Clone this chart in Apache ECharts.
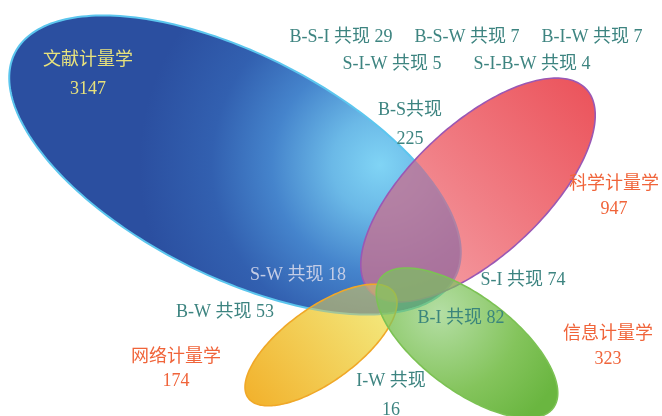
<!DOCTYPE html>
<html>
<head>
<meta charset="utf-8">
<script src="https://cdn.jsdelivr.net/npm/echarts@6/dist/echarts.min.js"></script>
<style>html,body{margin:0;padding:0;background:#fff}#c{width:662px;height:416px}</style>
</head>
<body>
<div id="c"></div>
<script>
// ---- data ----
const setNames = ['文献计量学', '科学计量学', '网络计量学', '信息计量学'];
const setCounts = [3147, 947, 174, 323];
const overlapNames = ['B-S共现', 'S-W 共现', 'S-I 共现', 'B-W 共现', 'B-I 共现', 'I-W 共现',
  'B-S-I 共现', 'B-S-W 共现', 'B-I-W 共现', 'S-I-W 共现', 'S-I-B-W 共现'];
const overlapCounts = [225, 18, 74, 53, 82, 16, 29, 7, 7, 5, 4];

// ---- layout (ellipse geometry in chart units) ----
const ellipseLayout = [
  { cx: 235, cy: 165, a: 247, b: 111, rot: 27 },
  { cx: 478, cy: 190, a: 148, b: 66, rot: -43 },
  { cx: 321, cy: 345, a: 90, b: 37, rot: -36 },
  { cx: 467, cy: 343, a: 108, b: 47, rot: 37 }
];
const ellipseStyle = [
  { fill: { type: 'radial', x: 0.82, y: 0.5, r: 0.8, colorStops: [
      { offset: 0, color: '#80d4f5' }, { offset: 0.2, color: '#6bb9e7' },
      { offset: 0.45, color: '#4584cc' }, { offset: 0.7, color: '#3260b0' }, { offset: 1, color: '#2b4fa0' }] },
    tint: null, stroke: '#5cc6ee', lw: 2 },
  { fill: { type: 'linear', x: 0, y: 1, x2: 1, y2: 0, colorStops: [
      { offset: 0, color: '#f6aab0' }, { offset: 1, color: '#eb5159' }] },
    tint: '#c47192', tintOp: 0.8, stroke: '#9a58b4', lw: 1.6 },
  { fill: { type: 'linear', x: 0, y: 1, x2: 1, y2: 0, colorStops: [
      { offset: 0, color: '#f2b02a' }, { offset: 1, color: '#f3f088' }] },
    tint: '#d2c460', tintOp: 0.6, stroke: '#f0a828', lw: 1.6 },
  { fill: { type: 'radial', x: 0.35, y: 0.3, r: 0.9, colorStops: [
      { offset: 0, color: '#b4dea4' }, { offset: 0.6, color: '#84c45c' }, { offset: 1, color: '#6ab640' }] },
    tint: '#78c35c', tintOp: 0.68, stroke: '#7cc254', lw: 1.6 }
];
// draw passes: [ellipseIndex, kind]  kind: 'base' | 'tint' | 'solo' | 'stroke'
const passes = [[0, 'base'],
  [1, 'tint'], [1, 'solo'], [1, 'stroke'],
  [2, 'tint'], [2, 'solo'], [2, 'stroke'],
  [3, 'tint'], [3, 'solo'], [3, 'stroke']];
const BLEND = { tint: 'source-atop', solo: 'destination-over' };

// label layout
const setLabelLayout = [
  { x: 88, y: 74.5, lh: 29, color: '#e8e27c' },
  { x: 614, y: 196.5, lh: 25, color: '#f0643a' },
  { x: 176, y: 369, lh: 24, color: '#f0643a' },
  { x: 608, y: 346.5, lh: 25, color: '#f0643a' }
];
const overlapLabelLayout = [
  { x: 410, y: 124.5, lh: 29, two: true, color: '#3d8480' },
  { x: 298, y: 275, color: '#c4cde6' },
  { x: 523, y: 280, color: '#3d8480' },
  { x: 225, y: 312, color: '#3d8480' },
  { x: 461, y: 318, color: '#3a857c' },
  { x: 391, y: 395.5, lh: 29, two: true, color: '#3d8480' },
  { x: 341, y: 37, color: '#3d8480' },
  { x: 467, y: 37, color: '#3d8480' },
  { x: 592, y: 37, color: '#3d8480' },
  { x: 392, y: 64, color: '#3d8480' },
  { x: 532, y: 64, color: '#3d8480' }
];

const FONT = '18px "Liberation Serif", "Noto Sans CJK SC", serif';

const labels = [];
setNames.forEach((n, i) => labels.push({ text: n + '\n' + setCounts[i], L: setLabelLayout[i] }));
overlapNames.forEach((n, i) => {
  const L = overlapLabelLayout[i];
  labels.push({ text: L.two ? n + '\n' + overlapCounts[i] : n + ' ' + overlapCounts[i], L });
});

function passStyle(st, kind) {
  if (kind === 'base') return { fill: st.fill, stroke: st.stroke, lineWidth: st.lw };
  if (kind === 'tint') return { fill: st.tint, opacity: st.tintOp };
  if (kind === 'solo') return { fill: st.fill };
  return { fill: null, stroke: st.stroke, lineWidth: st.lw };
}

const chart = echarts.init(document.getElementById('c'), null, { renderer: 'canvas' });
chart.setOption({
  animation: false,
  backgroundColor: 'transparent',
  grid: { left: 0, right: 0, top: 0, bottom: 0 },
  xAxis: { type: 'value', min: 0, max: 662, show: false },
  yAxis: { type: 'value', min: 0, max: 416, inverse: true, show: false },
  series: [
    {
      type: 'custom',
      coordinateSystem: 'cartesian2d',
      silent: true,
      clip: false,
      data: passes.map(p => ({ name: setNames[p[0]], value: [ellipseLayout[p[0]].cx, ellipseLayout[p[0]].cy, setCounts[p[0]]] })),
      renderItem: function (params, api) {
        const p = passes[params.dataIndex];
        const e = ellipseLayout[p[0]], st = ellipseStyle[p[0]];
        const c = api.coord([api.value(0), api.value(1)]);
        const s = api.size([e.a, e.b]);
        const A = Math.abs(s[0]), B = Math.abs(s[1]);
        const ang = e.rot * Math.PI / 180;
        const pts = [];
        for (let k = 0; k < 240; k++) {
          const t = k / 240 * 2 * Math.PI;
          const x = A * Math.cos(t), y = B * Math.sin(t);
          pts.push([c[0] + x * Math.cos(ang) - y * Math.sin(ang), c[1] + x * Math.sin(ang) + y * Math.cos(ang)]);
        }
        return {
          type: 'polygon',
          name: 'pass-' + p[1],
          shape: { points: pts },
          style: passStyle(st, p[1])
        };
      }
    },
    {
      type: 'custom',
      coordinateSystem: 'cartesian2d',
      silent: true,
      z: 5,
      data: labels.map(l => ({ name: l.text, value: [l.L.x, l.L.y] })),
      renderItem: function (params, api) {
        const l = labels[params.dataIndex];
        const c = api.coord([api.value(0), api.value(1)]);
        return {
          type: 'text',
          x: c[0], y: c[1],
          style: { text: l.text, fill: l.L.color, font: FONT, align: 'center', verticalAlign: 'middle', lineHeight: l.L.lh || 22 }
        };
      }
    }
  ]
});

// apply canvas compositing so overlaps get their own tint
(function applyBlend() {
  const zr = chart.getZr();
  const list = zr.storage.getDisplayList(true);
  list.forEach(el => {
    const kind = el.name && el.name.indexOf('pass-') === 0 ? el.name.slice(5) : null;
    if (kind && BLEND[kind]) {
      el.style.blend = BLEND[kind];
      el.dirty();
    }
  });
  zr.refreshImmediately();
})();
</script>
</body>
</html>
